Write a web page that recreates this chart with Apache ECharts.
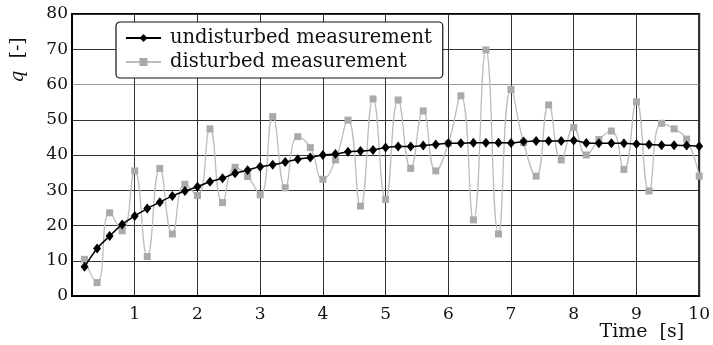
<!DOCTYPE html>
<html>
<head>
<meta charset="utf-8">
<script src="https://cdn.jsdelivr.net/npm/echarts@6/dist/echarts.min.js"></script>
<style>html,body{margin:0;padding:0;background:#fff}#c{width:713px;height:345px}</style>
</head>
<body>
<div id="c"></div>
<script>
var time = [0.2,0.4,0.6,0.8,1.0,1.2,1.4,1.6,1.8,2.0,2.2,2.4,2.6,2.8,3.0,3.2,3.4,3.6,3.8,4.0,4.2,4.4,4.6,4.8,5.0,5.2,5.4,5.6,5.8,6.0,6.2,6.4,6.6,6.8,7.0,7.2,7.4,7.6,7.8,8.0,8.2,8.4,8.6,8.8,9.0,9.2,9.4,9.6,9.8,10.0];
var undisturbed = [8.3,13.5,17.0,20.3,22.7,24.8,26.6,28.4,29.8,31.0,32.4,33.4,34.8,35.7,36.7,37.2,38.0,38.8,39.3,40.0,40.3,40.9,41.1,41.4,42.1,42.4,42.4,42.7,43.0,43.3,43.3,43.5,43.5,43.5,43.4,43.8,44.0,44.0,44.0,44.1,43.4,43.3,43.3,43.3,43.1,43.0,42.8,42.8,42.7,42.5];
var disturbed = [10.4,3.8,23.6,18.5,35.5,11.2,36.2,17.6,31.7,28.5,47.4,26.5,36.5,33.9,28.7,50.9,30.7,45.2,42.1,33.1,38.6,49.9,25.5,55.9,27.4,55.6,36.2,52.5,35.5,43.3,56.8,21.6,69.8,17.6,58.6,43.5,34.0,54.2,38.6,47.8,40.0,44.4,46.8,35.9,55.1,29.8,49.0,47.4,44.5,34.0];
var seriesNames = ['undisturbed measurement','disturbed measurement'];
var xTicks = [0,1,2,3,4,5,6,7,8,9,10];
var yTicks = [0,10,20,30,40,50,60,70,80];

function pairs(xs, ys){ return xs.map(function(x,i){ return [x, ys[i]]; }); }

var FONT = 'DejaVu Serif';
var chart = echarts.init(document.getElementById('c'));
chart.setOption({
  backgroundColor: '#fff',
  animation: false,
  grid: {left: 72, right: 10, top: 14, bottom: 49, show: true, borderColor: '#000', borderWidth: 2, backgroundColor: 'transparent'},
  xAxis: {
    type: 'value', min: xTicks[0], max: xTicks[xTicks.length-1], interval: 1,
    axisLine: {show: true, lineStyle: {color: '#000', width: 2}},
    axisTick: {show: false},
    splitLine: {show: true, lineStyle: {color: '#333', width: 1}},
    axisLabel: {color: '#111', fontFamily: FONT, fontSize: 17, margin: 10,
      formatter: function(v){ return v === 0 ? '' : String(v); }},
    name: 'Time  [s]', nameLocation: 'end', nameGap: -15,
    nameTextStyle: {fontFamily: FONT, fontSize: 19, color: '#111', align: 'right', verticalAlign: 'top', padding: [27,0,0,0]}
  },
  yAxis: {
    type: 'value', min: yTicks[0], max: yTicks[yTicks.length-1], interval: 10,
    axisLine: {show: true, lineStyle: {color: '#000', width: 2}},
    axisTick: {show: false},
    splitLine: {show: true, lineStyle: {color: ['#333','#333','#333','#333','#333','#333','#999','#333','#333'], width: 1}},
    axisLabel: {color: '#111', fontFamily: FONT, fontSize: 17, margin: 4}
  },
  legend: {
    orient: 'vertical', left: 116, top: 22,
    data: seriesNames,
    selectedMode: false,
    backgroundColor: '#fff',
    borderColor: '#111', borderWidth: 1.2, borderRadius: 4,
    padding: [6, 11, 6, 9],
    itemWidth: 35, itemHeight: 10, itemGap: 4,
    textStyle: {fontFamily: FONT, fontSize: 19.5, color: '#111', lineHeight: 20, padding: [0,0,0,4]}
  },
  graphic: [{
    type: 'text', x: 18, y: 60, rotation: Math.PI/2,
    style: {text: '{i|q}  [-]', fontFamily: FONT, fontSize: 19, fill: '#111', align: 'center', verticalAlign: 'middle',
      rich: {i: {fontStyle: 'italic', fontFamily: FONT, fontSize: 19}}}
  }],
  series: [{
    name: seriesNames[1], type: 'line', data: pairs(time, disturbed),
    smooth: 0.5, clip: false, z: 2,
    symbol: 'rect', symbolSize: 7,
    lineStyle: {color: '#bdbdbd', width: 1.3},
    itemStyle: {color: '#aaaaaa'}
  }, {
    name: seriesNames[0], type: 'line', data: pairs(time, undisturbed),
    smooth: 0.3, clip: false, z: 3,
    symbol: 'diamond', symbolSize: [8, 10],
    lineStyle: {color: '#000', width: 1.5},
    itemStyle: {color: '#000'}
  }]
});
</script>
</body>
</html>
